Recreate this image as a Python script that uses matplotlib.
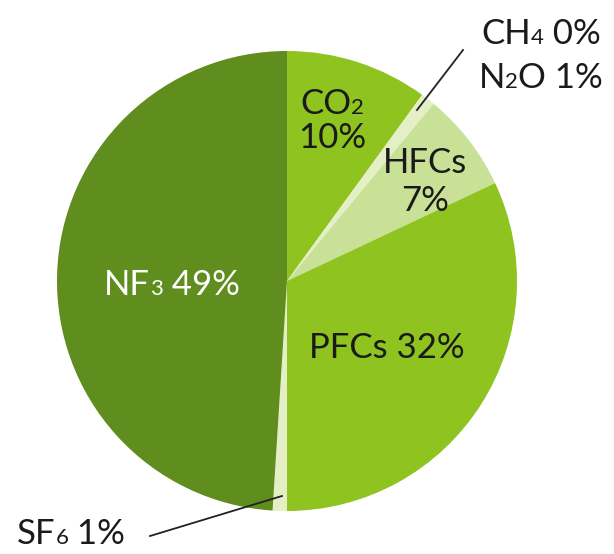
import matplotlib
matplotlib.use("Agg")
import matplotlib.pyplot as plt
from matplotlib.offsetbox import TextArea, HPacker, VPacker, AnnotationBbox

# Greenhouse gas shares (percent), clockwise from 12 o'clock
gases = ["CO2", "CH4", "N2O", "HFCs", "PFCs", "SF6", "NF3"]
shares = [10, 0, 1, 7, 32, 1, 49]
colors = ["#8fc31f", "#e4efc6", "#e4efc6", "#c9e196", "#8fc31f", "#e4efc6", "#5f8d1e"]

W, H = 614, 554
plt.rcParams["font.family"] = ["Lato", "DejaVu Sans"]

fig = plt.figure(figsize=(W / 100, H / 100), dpi=100)
ax = fig.add_axes([0, 0, 1, 1])

cx, cy, r = 287, H - 281, 230
ax.pie(shares, colors=colors, startangle=90, counterclock=False,
       center=(cx, cy), radius=r, frame=True,
       wedgeprops=dict(linewidth=0))
ax.set_xlim(0, W)
ax.set_ylim(0, H)
ax.set_aspect("equal")
ax.axis("off")

FS, SUB = 25, 16
DARK = "#1a1a1a"


def line(parts, color):
    """One text line built from (text, is_subscript) runs on a shared baseline."""
    kids = [TextArea(t, textprops=dict(size=SUB if s else FS, color=color))
            for t, s in parts]
    return HPacker(children=kids, align="baseline", pad=0, sep=0)


def label(x, y, lines, color=DARK, sep=6):
    box = VPacker(children=[line(p, color) for p in lines],
                  align="center", pad=0, sep=sep)
    ax.add_artist(AnnotationBbox(box, (x, H - y), xycoords="data",
                                 frameon=False, box_alignment=(0.5, 0.5), pad=0))


label(332, 121, [[("CO", 0), ("2", 1)], [("10%", 0)]], sep=2)
label(425, 182, [[("HFCs", 0)], [("7%", 0)]], sep=4)
label(172, 285, [[("NF", 0), ("3", 1), (" 49%", 0)]], color="white")
label(387, 348, [[("PFCs 32%", 0)]])
label(541, 56, [[("CH", 0), ("4", 1), (" 0%", 0)], [("N", 0), ("2", 1), ("O 1%", 0)]], sep=8)
label(71, 534, [[("SF", 0), ("6", 1), (" 1%", 0)]])

# leader lines for the thin slices
ax.plot([463, 417], [H - 50, H - 110], color="#222222", lw=1.3)
ax.plot([150, 282], [H - 536, H - 496], color="#222222", lw=1.3)

fig.savefig("out.png", dpi=100)
